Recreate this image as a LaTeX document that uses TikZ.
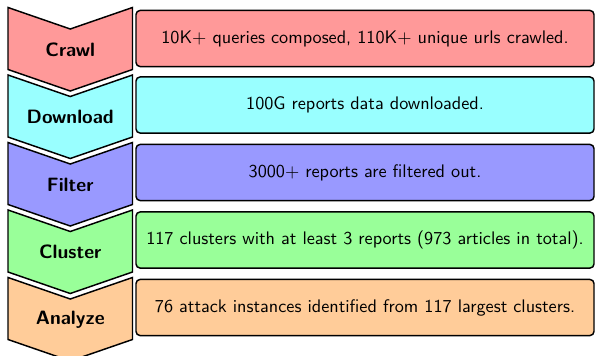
\documentclass[tikz,border=0pt]{standalone}
\usepackage{fontspec}
\definecolor{cRed}{RGB}{255,153,153}
\definecolor{cCyan}{RGB}{153,255,255}
\definecolor{cBlue}{RGB}{153,153,255}
\definecolor{cGreen}{RGB}{153,255,153}
\definecolor{cOrange}{RGB}{255,204,153}
\begin{document}
\begin{tikzpicture}[x=0.544pt,y=-0.544pt,
  stage/.style={draw=black, thick, line join=miter},
  lab/.style={font=\sffamily\bfseries\fontsize{10.5}{12}\selectfont, inner sep=0},
  info/.style={draw=black, thick, rounded corners=2.2pt, minimum width=249.15pt,
    minimum height=30.5pt, inner sep=0, font=\sffamily\fontsize{9.9}{12}\selectfont}]
\useasboundingbox (0,0) rectangle (595,355);
% Crawl
\draw[stage, fill=cRed] (8,7.5) -- (70.25,29) -- (132.5,7.5) -- (132.5,69.5) -- (70.25,91) -- (8,69.5) -- cycle;
\node[lab] (crawl) at (70.25,49.5) {Crawl};
\node[info, fill=cRed] (crawlinfo) at (365,38.5) {10K$+$ queries composed, 110K$+$ unique urls crawled.};
% Download
\draw[stage, fill=cCyan] (8,75) -- (70.25,96.5) -- (132.5,75) -- (132.5,137) -- (70.25,158.5) -- (8,137) -- cycle;
\node[lab] (download) at (70.25,117) {Download};
\node[info, fill=cCyan] (downloadinfo) at (365,105) {100G reports data downloaded.};
% Filter
\draw[stage, fill=cBlue] (8,142.5) -- (70.25,164) -- (132.5,142.5) -- (132.5,204.5) -- (70.25,226) -- (8,204.5) -- cycle;
\node[lab] (filter) at (70.25,184.5) {Filter};
\node[info, fill=cBlue] (filterinfo) at (365,172.5) {3000$+$ reports are filtered out.};
% Cluster
\draw[stage, fill=cGreen] (8,210) -- (70.25,231.5) -- (132.5,210) -- (132.5,272) -- (70.25,293.5) -- (8,272) -- cycle;
\node[lab] (cluster) at (70.25,252) {Cluster};
\node[info, fill=cGreen] (clusterinfo) at (365,240) {117 clusters with at least 3 reports (973 articles in total).};
% Analyze
\draw[stage, fill=cOrange] (8,277.5) -- (70.25,299) -- (132.5,277.5) -- (132.5,339.5) -- (70.25,361) -- (8,339.5) -- cycle;
\node[lab] (analyze) at (70.25,319.5) {Analyze};
\node[info, fill=cOrange] (analyzeinfo) at (365,307.5) {76 attack instances identified from 117 largest clusters.};
\end{tikzpicture}
\end{document}
